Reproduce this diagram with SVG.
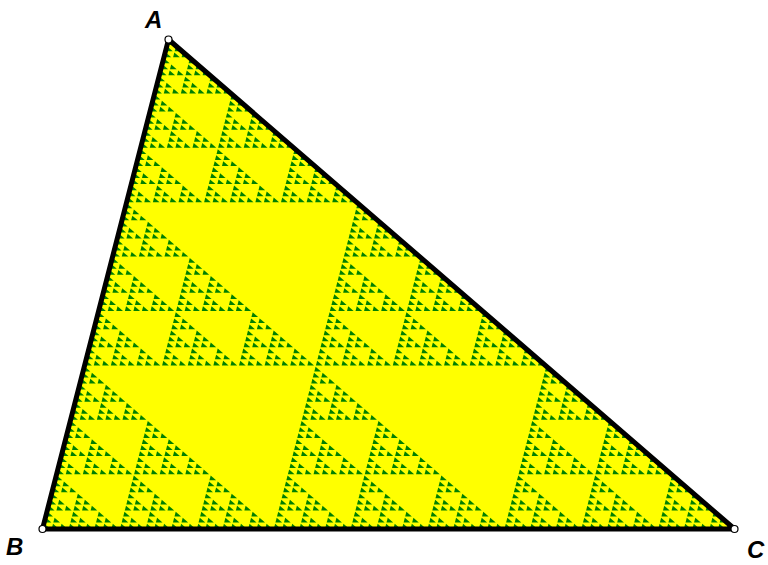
<svg xmlns="http://www.w3.org/2000/svg" xmlns:xlink="http://www.w3.org/1999/xlink" width="768" height="565" viewBox="0 0 768 565">
<style>
.lbl{font-family:"Liberation Sans",Arial,sans-serif;font-weight:bold;font-style:italic;font-size:24px;fill:#000}
.pt{fill:#fff;stroke:#000;stroke-width:1.2}
</style>
<defs>
<polygon id="c0" points="0.40,0.89 -0.82,5.60 5.85,5.60" fill="#008000"/>
<g id="c1">
<use xlink:href="#c0"/>
<use xlink:href="#c0" transform="translate(-1.5556,6.0432)"/>
<use xlink:href="#c0" transform="translate(6.9877,6.0432)"/>
<use xlink:href="#c0" transform="translate(-3.1111,12.0864)"/>
<use xlink:href="#c0" transform="translate(5.4321,12.0864)"/>
<use xlink:href="#c0" transform="translate(13.9753,12.0864)"/>
</g>
<g id="c2">
<use xlink:href="#c1"/>
<use xlink:href="#c1" transform="translate(-4.6667,18.1296)"/>
<use xlink:href="#c1" transform="translate(20.9630,18.1296)"/>
<use xlink:href="#c1" transform="translate(-9.3333,36.2593)"/>
<use xlink:href="#c1" transform="translate(16.2963,36.2593)"/>
<use xlink:href="#c1" transform="translate(41.9259,36.2593)"/>
</g>
<g id="c3">
<use xlink:href="#c2"/>
<use xlink:href="#c2" transform="translate(-14,54.3889)"/>
<use xlink:href="#c2" transform="translate(62.8889,54.3889)"/>
<use xlink:href="#c2" transform="translate(-28,108.7778)"/>
<use xlink:href="#c2" transform="translate(48.8889,108.7778)"/>
<use xlink:href="#c2" transform="translate(125.7778,108.7778)"/>
</g>
<g id="c4">
<use xlink:href="#c3"/>
<use xlink:href="#c3" transform="translate(-42,163.1667)"/>
<use xlink:href="#c3" transform="translate(188.6667,163.1667)"/>
<use xlink:href="#c3" transform="translate(-84,326.3333)"/>
<use xlink:href="#c3" transform="translate(146.6667,326.3333)"/>
<use xlink:href="#c3" transform="translate(377.3333,326.3333)"/>
</g>
</defs>
<g id="fractal">
<polygon points="168.5,39.5 42.5,529 734.5,529" fill="#ffff00"/>
<use xlink:href="#c4" transform="translate(168.5,39.5)"/>
</g>
<g id="edges">
<polygon points="168.5,39.5 42.5,529 734.5,529" fill="none" stroke="#000" stroke-width="5" stroke-linejoin="round"/>
</g>
<g id="A"><circle class="pt" cx="168.5" cy="39.5" r="3.5"/><text class="lbl" x="145" y="28">A</text></g>
<g id="B"><circle class="pt" cx="42.5" cy="529" r="3.5"/><text class="lbl" x="6" y="555">B</text></g>
<g id="C"><circle class="pt" cx="734.5" cy="529" r="3.5"/><text class="lbl" x="747" y="558">C</text></g>
</svg>
